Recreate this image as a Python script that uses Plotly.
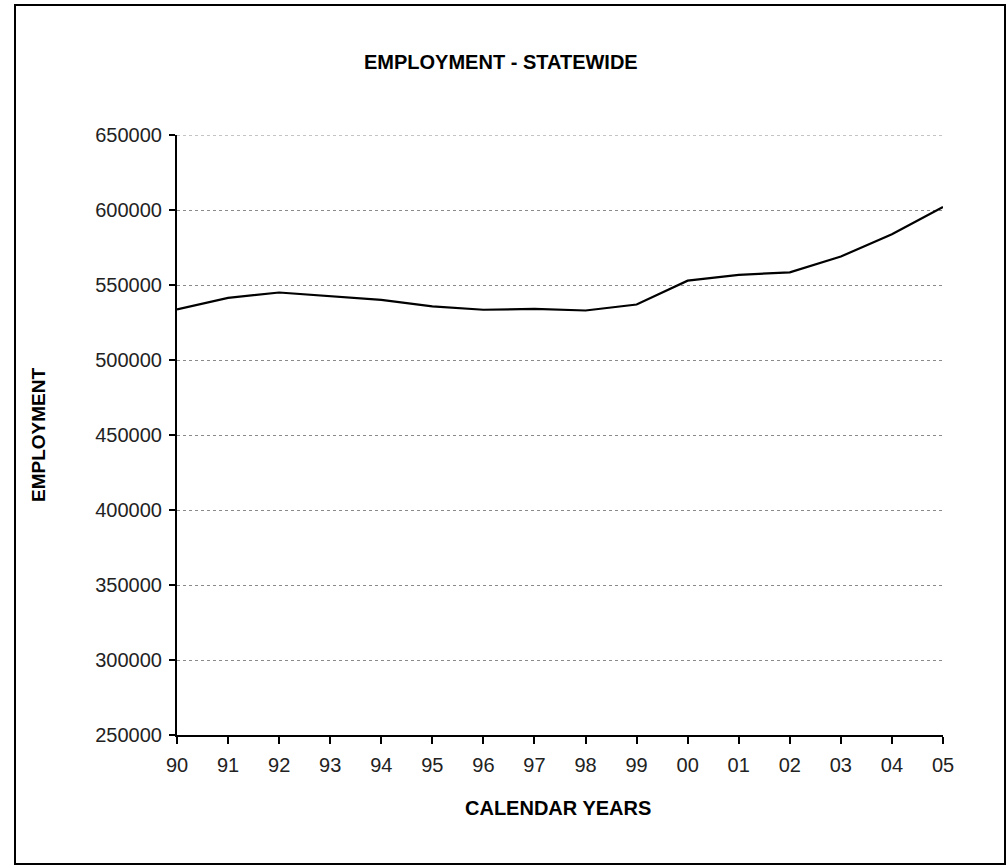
import plotly.graph_objects as go

# Statewide employment by calendar year
years = ["90", "91", "92", "93", "94", "95", "96", "97",
         "98", "99", "00", "01", "02", "03", "04", "05"]
employment = [533700, 541400, 545000, 542500, 540100, 535700, 533500, 534100,
              533000, 537000, 552900, 556800, 558400, 569000, 583800, 602000]
y_ticks = [250000, 300000, 350000, 400000, 450000, 500000, 550000, 600000, 650000]

W, H = 1007, 865
ML, MR, MT, MB = 177, 64, 135, 130
PW, PH = W - ML - MR, H - MT - MB

FONT = "Liberation Sans, Arial, sans-serif"
GRID = "#8a8a8a"


def px_x(px):
    return (px - ML) / PW


def px_y(py):
    return (H - MB - py) / PH


fig = go.Figure()
fig.add_trace(go.Scatter(
    x=list(range(len(years))), y=employment, mode="lines",
    line=dict(color="black", width=2.2), showlegend=False,
))

fig.update_layout(
    width=W, height=H,
    margin=dict(l=ML, r=MR, t=MT, b=MB),
    paper_bgcolor="white", plot_bgcolor="white",
    font=dict(family=FONT, color="black", size=20),
    xaxis=dict(
        range=[0, len(years) - 1],
        tickmode="array", tickvals=list(range(len(years))), ticktext=years,
        showgrid=False, zeroline=False,
        showline=True, linecolor="black", linewidth=2,
        ticks="outside", ticklen=7, tickwidth=2, tickcolor="black",
        tickfont=dict(size=20, color="#222"), ticklabelstandoff=4,
    ),
    yaxis=dict(
        range=[250000, 650000],
        tickmode="array", tickvals=y_ticks, ticktext=[str(v) for v in y_ticks],
        showgrid=True, gridcolor=GRID, gridwidth=1, griddash="3px,3px",
        zeroline=False,
        showline=True, linecolor="black", linewidth=2,
        ticks="outside", ticklen=6, tickwidth=1.5, tickcolor="black",
        tickfont=dict(size=20, color="#222"), ticklabelstandoff=3,
    ),
    annotations=[
        dict(text="<b>EMPLOYMENT - STATEWIDE</b>", xref="paper", yref="paper",
             x=px_x(501), y=px_y(62), xanchor="center", yanchor="middle",
             showarrow=False, font=dict(size=20)),
        dict(text="<b>CALENDAR YEARS</b>", xref="paper", yref="paper",
             x=px_x(558), y=px_y(808), xanchor="center", yanchor="middle",
             showarrow=False, font=dict(size=20)),
        dict(text="<b>EMPLOYMENT</b>", xref="paper", yref="paper",
             x=px_x(38), y=px_y(435), xanchor="center", yanchor="middle",
             textangle=-90, showarrow=False, font=dict(size=19)),
    ],
    shapes=[
        # outer frame around the whole chart
        dict(type="rect", xref="paper", yref="paper",
             x0=px_x(15), x1=px_x(1005), y0=px_y(864), y1=px_y(5),
             line=dict(color="black", width=2), fillcolor="rgba(0,0,0,0)",
             layer="below"),
        # dashed gridline along the top of the plot area
        dict(type="line", xref="paper", yref="y",
             x0=0, x1=1, y0=y_ticks[-1], y1=y_ticks[-1],
             line=dict(color=GRID, width=1, dash="3px,3px"), layer="below"),
    ],
)

fig.write_html("out.html")
